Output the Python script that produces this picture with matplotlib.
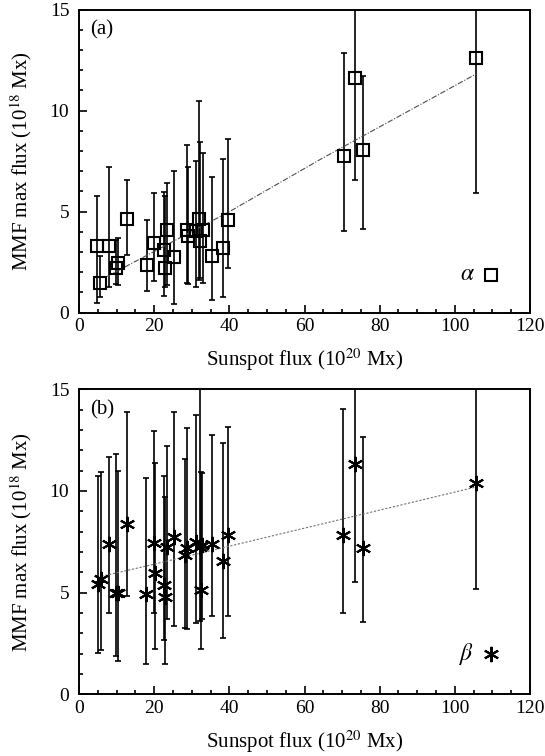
import numpy as np
import matplotlib
matplotlib.use("Agg")
import matplotlib.pyplot as plt
from matplotlib.ticker import MultipleLocator

plt.rcParams['font.family'] = ['Liberation Serif', 'DejaVu Serif']
plt.rcParams['mathtext.fontset'] = 'stix'

# (a) alpha spots: sunspot flux, MMF max flux, error bar low / high ends
alpha_x = [4.85, 5.5, 7.9, 9.9, 10.4, 12.8, 18.0, 20.0, 22.7, 22.9, 23.5, 25.3, 28.6,
           29.1, 31.0, 31.9, 32.2, 33.0, 35.4, 38.3, 39.7, 70.5, 73.4, 75.6, 105.7]
alpha_y = [3.31, 1.49, 3.28, 2.2, 2.45, 4.64, 2.37, 3.43, 3.11, 2.2, 4.1, 2.78, 4.11,
           3.78, 4.05, 4.65, 3.55, 4.1, 2.82, 3.2, 4.57, 7.75, 11.62, 8.05, 12.62]
alpha_lo = [0.50, 0.79, 1.26, 1.42, 1.35, 2.86, 1.09, 1.59, 0.83, 1.29, 1.36, 0.43, 1.46,
            1.43, 1.25, 1.6, 1.7, 1.47, 0.63, 0.76, 2.2, 4.05, 6.59, 4.15, 5.9]
alpha_hi = [5.79, 2.81, 7.2, 3.6, 3.7, 6.59, 4.6, 5.93, 5.96, 5.8, 6.43, 7.0, 8.3,
            7.2, 7.5, 10.5, 8.45, 7.9, 6.73, 7.59, 8.58, 12.88, 18.0, 11.72, 20.0]
alpha_fit_x = [7.5, 40, 64.5, 105.7]
alpha_fit_y = [1.8, 5.0, 7.62, 11.82]

# (b) beta spots
beta_x = [5.0, 5.8, 7.9, 9.9, 10.3, 12.8, 17.8, 20.0, 20.2, 22.7, 22.9, 23.5, 25.3,
          28.2, 28.8, 31.05, 32.1, 32.4, 32.8, 35.45, 38.3, 39.7, 70.3, 73.4, 75.6, 105.7]
beta_y = [5.45, 5.67, 7.39, 5.0, 4.97, 8.38, 4.93, 7.46, 5.95, 5.38, 4.77, 7.26, 7.75,
          6.85, 7.18, 7.51, 7.26, 5.13, 7.34, 7.39, 6.57, 7.84, 7.84, 11.33, 7.18, 10.41]
beta_lo = [2.02, 2.16, 3.98, 1.9, 1.65, 4.84, 1.51, 3.98, 2.25, 2.67, 1.49, 3.7, 3.36,
           3.27, 3.22, 3.53, 3.62, 2.25, 3.7, 3.83, 2.78, 3.87, 3.98, 5.54, 3.57, 5.18]
beta_hi = [10.74, 10.95, 11.66, 11.82, 11.0, 13.9, 10.62, 12.97, 11.39, 10.74, 9.72, 12.21,
           13.9, 11.56, 13.08, 13.74, 18.0, 10.95, 10.9, 12.75, 12.38, 13.16, 14.02, 18.0,
           12.64, 18.0]
beta_fit_x = [6.0, 20, 64, 105.7]
beta_fit_y = [5.8, 6.4, 8.35, 10.2]

fig = plt.figure(figsize=(5.45, 7.56), dpi=100)
ax1 = fig.add_axes([0.145, 0.5864, 0.8275, 0.4008])
ax2 = fig.add_axes([0.145, 0.0816, 0.8275, 0.4034])


def panel(ax, x, y, lo, hi, fx, fy, marker, ms, tag, greek, fitstyle, fitcolor, gy):
    x = np.array(x); y = np.array(y)
    yerr = [y - np.array(lo), np.array(hi) - y]
    ax.errorbar(x, y, yerr=yerr, fmt='none', ecolor='black', elinewidth=1.2,
                capsize=2.2, capthick=1.2, zorder=2)
    ax.plot(fx, fy, color=fitcolor, lw=0.8, linestyle=fitstyle, zorder=3)
    ax.plot(x, y, linestyle='none', marker=marker, ms=ms, mfc='none', mec='black',
            mew=1.5, zorder=4)
    # legend symbol
    ax.plot([0.913], [gy], transform=ax.transAxes, linestyle='none', marker=marker,
            ms=ms, mfc='none', mec='black', mew=1.5, clip_on=False)
    ax.text(0.877, gy, greek, transform=ax.transAxes, ha='right', va='center',
            fontsize=17)
    ax.text(0.025, 0.965, tag, transform=ax.transAxes, ha='left', va='top', fontsize=15)

    ax.set_xlim(0, 120)
    ax.set_ylim(0, 15)
    ax.xaxis.set_major_locator(MultipleLocator(20))
    ax.xaxis.set_minor_locator(MultipleLocator(5))
    ax.yaxis.set_major_locator(MultipleLocator(5))
    ax.yaxis.set_minor_locator(MultipleLocator(1))
    ax.tick_params(which='both', direction='in', top=False, right=False, width=1.2,
                   labelsize=14)
    ax.tick_params(which='major', length=6)
    ax.tick_params(axis='x', pad=4)
    ax.tick_params(axis='y', pad=7)
    ax.tick_params(which='minor', length=3)
    for s in ax.spines.values():
        s.set_linewidth(1.4)
    ax.set_xlabel(r'Sunspot flux (10$^{20}$ Mx)', fontsize=15)
    ax.set_ylabel(r'MMF max flux (10$^{18}$ Mx)', fontsize=15)
    ax.xaxis.set_label_coords(0.5, -0.112)
    ax.yaxis.set_label_coords(-0.10, 0.5)


panel(ax1, alpha_x, alpha_y, alpha_lo, alpha_hi, alpha_fit_x, alpha_fit_y,
      's', 9, '(a)', r'$\alpha$', (0, (5, 1.5, 1, 1.5)), '0.3', 0.125)
panel(ax2, beta_x, beta_y, beta_lo, beta_hi, beta_fit_x, beta_fit_y,
      (6, 2, 0), 11, '(b)', r'$\beta$', (0, (2, 1.5)), '0.45', 0.133)

fig.savefig('out.png', dpi=100)
